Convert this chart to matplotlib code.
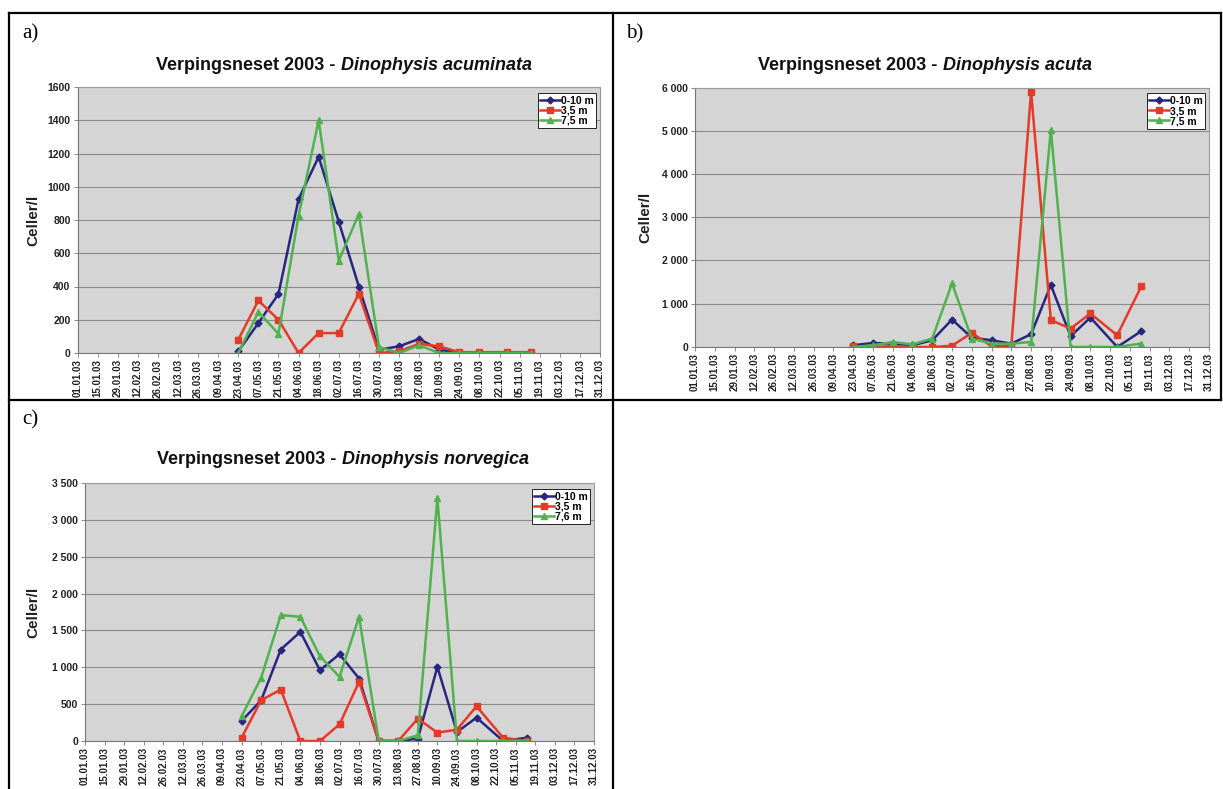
import datetime as dt
import matplotlib
matplotlib.use("Agg")
from matplotlib import pyplot as plt
import matplotlib.dates as mdates
from matplotlib.lines import Line2D
from matplotlib.ticker import MultipleLocator, FuncFormatter

# sampling dates (day.month, 2003), shared by all three panels
sample_dates = ["23.04", "07.05", "21.05", "04.06", "18.06", "02.07", "16.07", "30.07",
                "13.08", "27.08", "10.09", "24.09", "08.10", "27.10", "13.11"]

labels_ab = ["0-10 m", "3,5 m", "7,5 m"]
labels_c = ["0-10 m", "3,5 m", "7,6 m"]

# a) Dinophysis acuminata, celler/l
acuminata_0_10 = [10, 180, 355, 925, 1180, 790, 400, 20, 40, 85, 20, 0, 0, 0, 0]
acuminata_3_5 = [80, 316, 200, 0, 120, 120, 356, 0, 10, 55, 40, 5, 5, 5, 5]
acuminata_7_5 = [0, 246, 116, 826, 1400, 556, 836, 36, 0, 46, 0, 0, 0, 0, 0]

# b) Dinophysis acuta
acuta_0_10 = [40, 93, 78, 40, 155, 635, 217, 155, 78, 295, 1434, 248, 682, 0, 365]
acuta_3_5 = [15, 0, 20, 0, 0, 30, 325, 20, 20, 5905, 620, 426, 775, 270, 1400]
acuta_7_5 = [0, 40, 116, 60, 194, 1472, 194, 78, 78, 116, 5020, 0, 0, 0, 80]

# c) Dinophysis norvegica
norvegica_0_10 = [272, 553, 1241, 1481, 960, 1178, 847, 0, 0, 32, 1006, 122, 317, 0, 45]
norvegica_3_5 = [45, 553, 698, 0, 0, 226, 802, 0, 0, 303, 113, 154, 471, 45, 0]
norvegica_7_5 = [335, 860, 1708, 1685, 1150, 870, 1685, 9, 0, 77, 3293, 0, 0, 0, 0]

W, H = 1223, 789
BLUE = '#27277f'
RED = '#e63a28'
GREEN = '#4fb24f'
FONT = 'Liberation Sans'


def fx(x):
    return x / W


def fy(y):
    return 1 - y / H


def thousands(v, pos):
    return ("%d" % v) if v < 1000 else ("{:,.0f}".format(v).replace(',', ' '))


def panel(fig, box, species, series, labels, ymax, ystep, fmt, title_x, title_y, ylab_x):
    left, top, right, bottom = box
    ax = fig.add_axes([fx(left), fy(bottom), fx(right - left), (bottom - top) / H])
    ax.set_facecolor('#d5d5d5')
    x = [mdates.date2num(dt.datetime.strptime(d + ".2003", "%d.%m.%Y")) for d in sample_dates]
    styles = [(BLUE, 'D', 3.5), (RED, 's', 5), (GREEN, '^', 5)]
    for vals, lab, (col, mk, ms) in zip(series, labels, styles):
        ax.plot(x, vals, color=col, marker=mk, markersize=ms, linewidth=1.8, label=lab)
    start = dt.datetime(2003, 1, 1)
    ticks = [start + dt.timedelta(days=14 * i) for i in range(27)]
    ax.set_xlim(mdates.date2num(ticks[0]), mdates.date2num(ticks[-1]))
    ax.set_xticks([mdates.date2num(t) for t in ticks])
    ax.set_xticklabels([t.strftime("%d.%m.%y") for t in ticks], rotation=90,
                       fontsize=7, fontweight='bold', family=FONT, color='#222222')
    ax.set_ylim(0, ymax)
    ax.yaxis.set_major_locator(MultipleLocator(ystep))
    ax.yaxis.set_major_formatter(FuncFormatter(fmt))
    for lb in ax.get_yticklabels():
        lb.set_fontsize(7.5)
        lb.set_fontweight('bold')
        lb.set_family(FONT)
        lb.set_color('#222222')
    ax.tick_params(axis='both', length=3, width=0.6, color='#777777', pad=2)
    ax.tick_params(axis='x', pad=1.5)
    ax.grid(axis='y', color='#8a8a8a', linewidth=0.8)
    ax.set_axisbelow(True)
    for sp in ax.spines.values():
        sp.set_color('#9a9a9a')
        sp.set_linewidth(0.8)
    ax.spines['left'].set_color('#777777')
    ax.spines['bottom'].set_color('#777777')
    leg = ax.legend(loc='upper right', bbox_to_anchor=(0.997, 0.985),
                    prop={'family': FONT, 'weight': 'bold', 'size': 7.5},
                    handlelength=1.9, handletextpad=0.1, borderpad=0.25,
                    labelspacing=0.0, fancybox=False, framealpha=1, borderaxespad=0.2)
    leg.get_frame().set_edgecolor('#222222')
    leg.get_frame().set_linewidth(0.7)
    fig.text(fx(ylab_x), fy((top + bottom) / 2), "Celler/l", rotation=90, ha='center',
             va='center', fontsize=11, fontweight='bold', family=FONT, color='#222222')
    # title: plain part + italic species name, centred together
    t1 = fig.text(0, fy(title_y), "Verpingsneset 2003 - ", ha='left', va='center',
                  fontsize=13, fontweight='bold', family=FONT, color='#111111')
    t2 = fig.text(0, fy(title_y), species, ha='left', va='center', fontsize=13,
                  fontweight='bold', style='italic', family=FONT, color='#111111')
    return ax, t1, t2, title_x


fig = plt.figure(figsize=(W / 100, H / 100), dpi=100)

titles = []
titles.append(panel(fig, (77.5, 87, 600, 353), "Dinophysis acuminata",
                    [acuminata_0_10, acuminata_3_5, acuminata_7_5], labels_ab,
                    1600, 200, lambda v, p: "%d" % v, 344, 66, 33)[1:])
titles.append(panel(fig, (695, 87.5, 1209, 347), "Dinophysis acuta",
                    [acuta_0_10, acuta_3_5, acuta_7_5], labels_ab,
                    6000, 1000, thousands, 925, 66, 645)[1:])
titles.append(panel(fig, (85, 483, 594, 741), "Dinophysis norvegica",
                    [norvegica_0_10, norvegica_3_5, norvegica_7_5], labels_c,
                    3500, 500, thousands, 343, 459, 33)[1:])

fig.canvas.draw()
rend = fig.canvas.get_renderer()
for t1, t2, cx in titles:
    w1 = t1.get_window_extent(rend).width
    w2 = t2.get_window_extent(rend).width
    x0 = cx - (w1 + w2) / 2
    t1.set_x(fx(x0))
    t2.set_x(fx(x0 + w1))

# table borders around the three panels
lines = [((9, 13), (1221, 13)), ((9, 13), (9, 789)), ((613, 13), (613, 789)),
         ((1221, 13), (1221, 400)), ((9, 400), (1221, 400))]
for (x1, y1), (x2, y2) in lines:
    fig.add_artist(Line2D([fx(x1), fx(x2)], [fy(y1), fy(y2)], color='black', linewidth=1.6))

for lab, (px, py) in zip(["a)", "b)", "c)"], [(22, 34), (626, 34), (22, 420)]):
    fig.text(fx(px), fy(py), lab, ha='left', va='center', fontsize=15,
             family='Liberation Serif', color='black')

fig.savefig("out.png", dpi=100)
